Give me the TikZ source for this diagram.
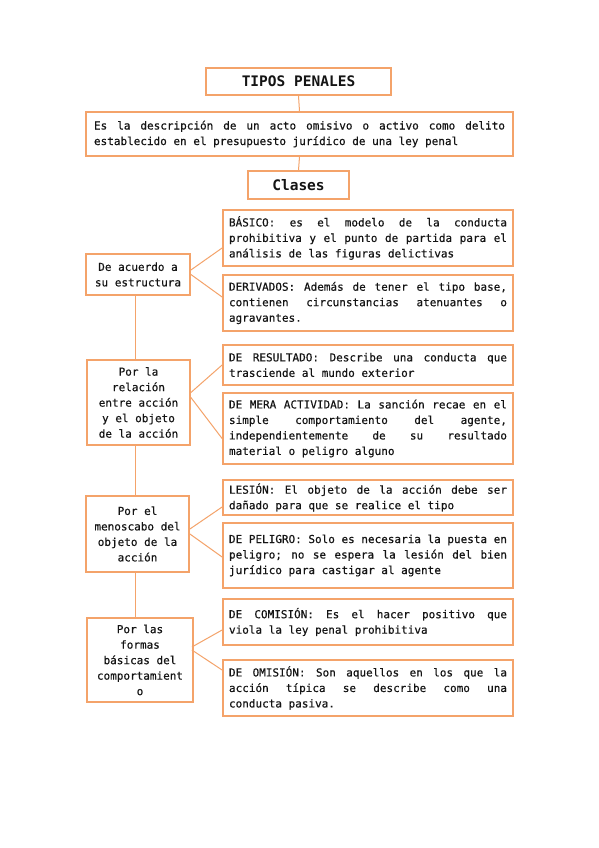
\documentclass[tikz,border=0pt]{standalone}
\usepackage{fontspec}
\newfontfamily\mono[FakeBold=0.45]{DejaVu Sans Mono}
\newfontfamily\monob{DejaVu Sans Mono Bold}
\definecolor{orng}{HTML}{F4A36A}
\definecolor{ink}{HTML}{141414}
\newcommand\jfont{\mono\fontsize{11pt}{15.5pt}\selectfont}
\newcommand\rl[1]{\hbox to 278pt{\spaceskip=0.602em plus 1fil minus 0.15em\relax #1}}
\newcommand\rlast[1]{\hbox to 278pt{\spaceskip=0.602em\relax #1\hfill}}
\newcommand\dl[1]{\hbox to 411pt{\spaceskip=0.602em plus 1fil minus 0.15em\relax #1}}
\newcommand\dlast[1]{\hbox to 411pt{\spaceskip=0.602em\relax #1\hfill}}
\tikzset{
  box/.style={draw=orng, line width=1.8pt, text=ink, inner sep=0pt},
  rbox/.style={box, minimum width=290pt, align=left, font=\jfont},
  dbox/.style={box, minimum width=427pt, align=left, font=\jfont},
  lbox/.style={box, align=center, font=\jfont},
  hbox/.style={box, font=\monob\fontsize{14.5pt}{17pt}\selectfont},
  conn/.style={draw=orng, line width=1pt}
}
\begin{document}
\begin{tikzpicture}[x=1pt,y=-1pt]
\useasboundingbox[fill=white] (0,0) rectangle (599,848);

\node[hbox, minimum width=185pt, minimum height=27pt] (tit) at (298.5,81.5) {TIPOS PENALES};
\node[dbox, minimum height=44pt] (desc) at (299.5,134) {%
\dl{Es la descripción de un acto omisivo o activo como delito}\\
\dlast{establecido en el presupuesto jurídico de una ley penal}};
\node[hbox, minimum width=101pt, minimum height=28pt] (cla) at (298.5,185) {Clases};

\draw[conn] (tit.south) -- (desc.north);
\draw[conn] (desc.south) -- (cla.north);

% group 1
\node[lbox, minimum width=104pt, minimum height=41pt] (acu) at (138,274.5) {De acuerdo a\\su estructura};
\node[rbox, minimum height=56pt] (bas) at (368,238) {%
\rl{BÁSICO: es el modelo de la conducta}\\
\rl{prohibitiva y el punto de partida para el}\\
\rlast{análisis de las figuras delictivas}};
\node[rbox, minimum height=56pt] (der) at (368,303) {%
\rl{DERIVADOS: Además de tener el tipo base,}\\
\rl{contienen circunstancias atenuantes o}\\
\rlast{agravantes.}};
\draw[conn] ([yshift=4.5pt]acu.east) -- ([yshift=-10pt]bas.west);
\draw[conn] (acu.east) -- ([yshift=6pt]der.west);

% group 2
\node[lbox, minimum width=103pt, minimum height=85pt] (rel) at (138.5,402.5) {Por la\\relación\\entre acción\\y el objeto\\de la acción};
\node[rbox, minimum height=40pt] (res) at (368,365) {%
\rl{DE RESULTADO: Describe una conducta que}\\
\rlast{trasciende al mundo exterior}};
\node[rbox, minimum height=71pt] (mer) at (368,428.5) {%
\rl{DE MERA ACTIVIDAD: La sanción recae en el}\\
\rl{simple comportamiento del agente,}\\
\rl{independientemente de su resultado}\\
\rlast{material o peligro alguno}};
\draw[conn] ([yshift=10pt]rel.east) -- (res.west);
\draw[conn] ([yshift=5pt]rel.east) -- ([yshift=-10pt]mer.west);

% group 3
\node[lbox, minimum width=103pt, minimum height=76pt] (men) at (137.5,534) {Por el\\menoscabo del\\objeto de la\\acción};
\node[rbox, minimum height=35pt] (les) at (368,497.5) {%
\rl{LESIÓN: El objeto de la acción debe ser}\\
\rlast{dañado para que se realice el tipo}};
\node[rbox, minimum height=65pt] (pel) at (368,555.5) {%
\rl{DE PELIGRO: Solo es necesaria la puesta en}\\
\rl{peligro; no se espera la lesión del bien}\\
\rlast{jurídico para castigar al agente}};
\draw[conn] ([yshift=5pt]men.east) -- ([yshift=-9.5pt]les.west);
\draw[conn] (men.east) -- ([yshift=-1.5pt]pel.west);

% group 4
\node[lbox, minimum width=106pt, minimum height=84pt] (for) at (140,660) {Por las\\formas\\básicas del\\comportamient\\o};
\node[rbox, minimum height=46pt] (com) at (368,622) {%
\rl{DE COMISIÓN: Es el hacer positivo que}\\
\rlast{viola la ley penal prohibitiva}};
\node[rbox, minimum height=56pt] (omi) at (368,688) {%
\rl{DE OMISIÓN: Son aquellos en los que la}\\
\rl{acción típica se describe como una}\\
\rlast{conducta pasiva.}};
\draw[conn] ([xshift=-2pt,yshift=13pt]for.east) -- ([yshift=-8pt]com.west);
\draw[conn] ([xshift=-2pt,yshift=10pt]for.east) -- ([yshift=18pt]omi.west);

% vertical spine
\draw[conn] ([xshift=-3pt]acu.south) -- ([xshift=-3pt]acu.south |- rel.north);
\draw[conn] ([xshift=-3.5pt]rel.south) -- ([xshift=-3.5pt]rel.south |- men.north);
\draw[conn] ([xshift=-2.5pt]men.south) -- ([xshift=-2.5pt]men.south |- for.north);
\end{tikzpicture}
\end{document}
